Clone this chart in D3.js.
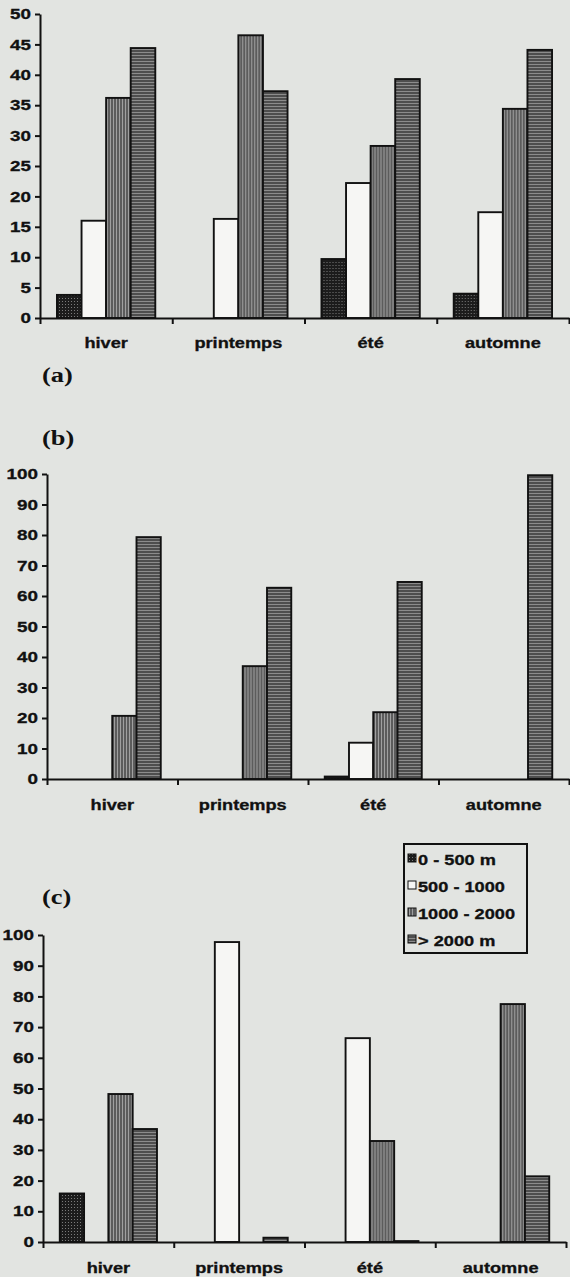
<!DOCTYPE html>
<html lang="fr">
<head>
<meta charset="utf-8">
<title>Abondance par saison et profondeur</title>
<script src="https://d3js.org/d3.v7.min.js"></script>
<style>
  html, body { margin: 0; padding: 0; background: #e2e4e1; }
  svg { display: block; }
  .tick-label, .cat-label, .legend-label { font-family: Arial, "Liberation Sans", sans-serif; font-weight: bold; fill: #111; stroke: #111; stroke-width: 0.3px; }
  .panel-letter { font-family: "Times New Roman", "Liberation Serif", serif; font-weight: bold; fill: #111; }
</style>
</head>
<body>
<div id="chart"></div>
<script>
// categories
const seasons = ['hiver', 'printemps', 'été', 'automne'];
const depths = ['0 - 500 m', '500 - 1000', '1000 - 2000', '> 2000 m'];

// values per season, in the order of depths
const valuesA = [
    [3.8, 16.0, 36.2, 44.4],
    [0, 16.3, 46.5, 37.3],
    [9.7, 22.2, 28.3, 39.3],
    [4.0, 17.4, 34.4, 44.1]
];
const valuesB = [
    [0, 0, 20.7, 79.3],
    [0, 0, 37.0, 62.7],
    [0.8, 11.9, 21.9, 64.6],
    [0, 0, 0, 99.6]
];
const valuesC = [
    [15.8, 0, 48.2, 36.8],
    [0, 97.7, 0, 1.4],
    [0, 66.4, 32.9, 0.3],
    [0, 0, 77.5, 21.4]
];

// y tick labels
const ticksA = [0, 5, 10, 15, 20, 25, 30, 35, 40, 45, 50];
const ticksB = [0, 10, 20, 30, 40, 50, 60, 70, 80, 90, 100];
const ticksC = [0, 10, 20, 30, 40, 50, 60, 70, 80, 90, 100];

const panelLetters = ['(a)', '(b)', '(c)'];

const width = 570;
const height = 1277;
const stretch = 1.3; // the scanned figure is wider than it is tall

const svg = d3.select('#chart')
    .append('svg')
    .attr('width', width)
    .attr('height', height);

svg.append('rect')
    .attr('width', width)
    .attr('height', height)
    .attr('fill', '#e2e4e1');

// fill patterns
const defs = svg.append('defs');

const dots = defs.append('pattern')
    .attr('id', 'pat0').attr('patternUnits', 'userSpaceOnUse')
    .attr('width', 3).attr('height', 3);
dots.append('rect').attr('width', 3).attr('height', 3).attr('fill', '#1c1c1c');
dots.append('rect').attr('x', 1).attr('y', 1).attr('width', 1).attr('height', 1).attr('fill', '#7a7a7a');

const white = defs.append('pattern')
    .attr('id', 'pat1').attr('patternUnits', 'userSpaceOnUse')
    .attr('width', 4).attr('height', 4);
white.append('rect').attr('width', 4).attr('height', 4).attr('fill', '#f6f6f4');

const vstripes = defs.append('pattern')
    .attr('id', 'pat2').attr('patternUnits', 'userSpaceOnUse')
    .attr('width', 3).attr('height', 3);
vstripes.append('rect').attr('width', 3).attr('height', 3).attr('fill', '#5c5c5c');
vstripes.append('rect').attr('x', 1).attr('width', 1).attr('height', 3).attr('fill', '#a0a0a0');

const hstripes = defs.append('pattern')
    .attr('id', 'pat3').attr('patternUnits', 'userSpaceOnUse')
    .attr('width', 3).attr('height', 3);
hstripes.append('rect').attr('width', 3).attr('height', 3).attr('fill', '#4e4e4e');
hstripes.append('rect').attr('y', 1).attr('width', 3).attr('height', 1).attr('fill', '#8c8c8c');

const colour = d3.scaleOrdinal()
    .domain(depths)
    .range(['url(#pat0)', 'url(#pat1)', 'url(#pat2)', 'url(#pat3)']);

function drawPanel(values, ticks, box) {
    const g = svg.append('g');

    const x0 = d3.scaleBand()
        .domain(seasons)
        .range([box.left, box.right])
        .padding(0);

    const x1 = d3.scaleBand()
        .domain(depths)
        .range([0, x0.bandwidth()])
        .paddingInner(0)
        .paddingOuter(0.69);

    const y = d3.scaleLinear()
        .domain([0, d3.max(ticks)])
        .range([box.bottom, box.top]);

    // bars
    const groups = g.selectAll('g.season')
        .data(seasons)
        .enter()
        .append('g')
        .attr('class', 'season')
        .attr('transform', d => `translate(${x0(d)},0)`);

    groups.selectAll('rect')
        .data((d, i) => depths.map((dep, j) => ({ dep, v: values[i][j] })).filter(e => e.v > 0))
        .enter()
        .append('rect')
        .attr('x', d => x1(d.dep))
        .attr('y', d => y(d.v))
        .attr('width', x1.bandwidth())
        .attr('height', d => y(0) - y(d.v))
        .attr('fill', d => colour(d.dep))
        .attr('stroke', '#111')
        .attr('stroke-width', 1.9);

    // y axis
    const yAxis = g.append('g')
        .attr('transform', `translate(${box.left},0)`)
        .call(d3.axisLeft(y).tickValues(ticks).tickSizeInner(5).tickSizeOuter(0).tickPadding(4));
    yAxis.select('.domain').attr('stroke', '#111').attr('stroke-width', 2);
    yAxis.selectAll('.tick line').attr('stroke', '#111').attr('stroke-width', 2);
    yAxis.selectAll('.tick text')
        .attr('class', 'tick-label')
        .attr('x', -9 / stretch)
        .attr('transform', `scale(${stretch},1)`)
        .style('font-size', '14.5px')
        .style('font-family', 'Arial, "Liberation Sans", sans-serif')
        .style('font-weight', 'bold');

    // x axis: ticks at the season boundaries
    const xb = d3.scaleLinear().domain([0, seasons.length]).range([box.left, box.right]);
    const xAxis = g.append('g')
        .attr('transform', `translate(0,${box.bottom})`)
        .call(d3.axisBottom(xb).tickValues(d3.range(0, seasons.length + 1)).tickSizeInner(6).tickSizeOuter(0).tickFormat(''));
    xAxis.select('.domain').attr('stroke', '#111').attr('stroke-width', 2);
    xAxis.selectAll('.tick line').attr('stroke', '#111').attr('stroke-width', 2);

    // season labels
    g.selectAll('text.cat-label')
        .data(seasons)
        .enter()
        .append('text')
        .attr('class', 'cat-label')
        .attr('transform', d => `translate(${x0(d) + x0.bandwidth() / 2},${box.labelY}) scale(${stretch},1)`)
        .attr('text-anchor', 'middle')
        .style('font-size', '14px')
        .text(d => d);
}

drawPanel(valuesA, ticksA, { left: 40, right: 569, top: 14, bottom: 318, labelY: 348 });
drawPanel(valuesB, ticksB, { left: 47, right: 569, top: 474, bottom: 779, labelY: 810 });
drawPanel(valuesC, ticksC, { left: 43, right: 566, top: 935, bottom: 1242, labelY: 1273 });

// panel letters
const letterY = [382, 445, 904];
svg.selectAll('text.panel-letter')
    .data(panelLetters)
    .enter()
    .append('text')
    .attr('class', 'panel-letter')
    .attr('transform', (d, i) => `translate(42,${letterY[i]}) scale(1.2,1)`)
    .style('font-size', '22px')
    .text(d => d);

// legend
const legend = svg.append('g').attr('transform', 'translate(404,844)');
legend.append('rect')
    .attr('width', 123)
    .attr('height', 109)
    .attr('fill', 'none')
    .attr('stroke', '#111')
    .attr('stroke-width', 2);

const items = legend.selectAll('g.item')
    .data(depths)
    .enter()
    .append('g')
    .attr('class', 'item')
    .attr('transform', (d, i) => `translate(4,${15 + i * 27})`);

items.append('rect')
    .attr('x', 0)
    .attr('y', -5)
    .attr('width', 8)
    .attr('height', 8)
    .attr('fill', d => colour(d))
    .attr('stroke', '#111')
    .attr('stroke-width', 1);

items.append('text')
    .attr('class', 'legend-label')
    .attr('transform', `translate(10,6) scale(${stretch},1)`)
    .style('font-size', '14px')
    .text(d => d);
</script>
</body>
</html>
